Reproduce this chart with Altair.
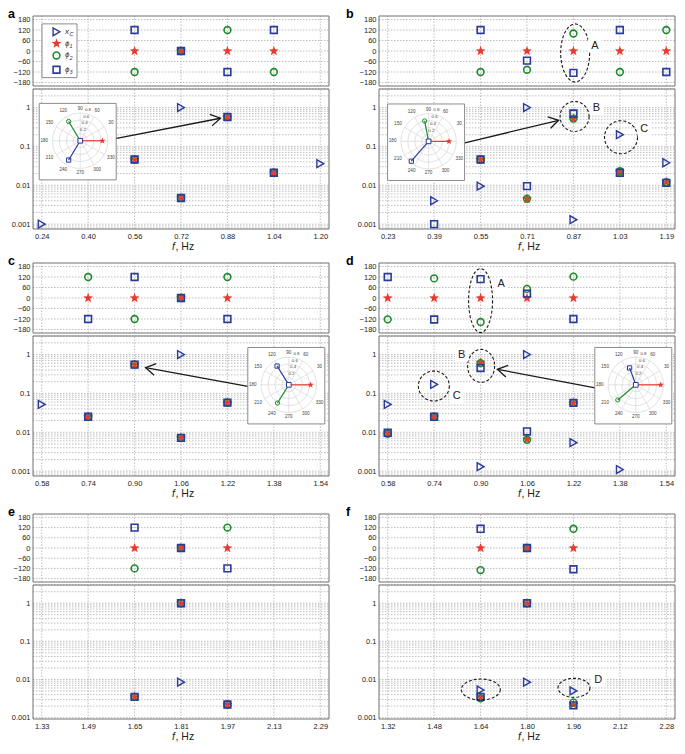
import math
import altair as alt
import numpy as np

FONT = "Liberation Sans"
BLUE = "#2a3b9c"
RED = "#e63b2e"
GREEN = "#1e8c2c"
GRID = "#a3a3a3"
FRAME = "#707070"
INK = "#1a1a1a"

# ---------------- values ----------------
PH_TICKS = [-180, -120, -60, 0, 60, 120, 180]
DECADES = [0.001, 0.01, 0.1, 1]
RINGS = [0.2, 0.4, 0.6, 0.8]
SPOKES = list(range(0, 360, 30))
ANGLE_LABELS = list(range(30, 360, 30))

A_TICKS = [0.24, 0.40, 0.56, 0.72, 0.88, 1.04, 1.20]
A_F = [0.56, 0.72, 0.88, 1.04]
A_PH1 = [0, 0, 0, 0]
A_PH2 = [-120, 0, 120, -120]
A_PH3 = [120, 0, -120, 120]
A_AM1 = [0.046, 0.0047, 0.57, 0.021]
A_AM2 = [0.046, 0.0047, 0.57, 0.021]
A_AM3 = [0.046, 0.0047, 0.57, 0.021]
A_XC_F = [0.24, 0.72, 1.20]
A_XC = [0.001, 1.0, 0.036]
A_IN_MAG = [0.64, 0.65, 0.65]
A_IN_ANG = [0, 121, 239]

B_TICKS = [0.23, 0.39, 0.55, 0.71, 0.87, 1.03, 1.19]
B_F = [0.55, 0.71, 0.87, 1.03, 1.19]
B_PH1 = [0, 0, 0, 0, 0]
B_PH2 = [-120, -107, 100, -120, 120]
B_PH3 = [120, -55, -125, 120, -120]
B_AM1 = [0.046, 0.0045, 0.52, 0.022, 0.012]
B_AM2 = [0.046, 0.0045, 0.52, 0.023, 0.012]
B_AM3_F = [0.39, 0.55, 0.71, 0.87, 1.03, 1.19]
B_AM3 = [0.001, 0.046, 0.0095, 0.70, 0.021, 0.0115]
B_XC_F = [0.39, 0.55, 0.71, 0.87, 1.03, 1.19]
B_XC = [0.004, 0.0095, 1.0, 0.0013, 0.2, 0.038]
B_IN_MAG = [0.59, 0.60, 0.76]
B_IN_ANG = [0, 101, 229]

C_TICKS = [0.58, 0.74, 0.90, 1.06, 1.22, 1.38, 1.54]
C_F = [0.74, 0.90, 1.06, 1.22]
C_PH1 = [0, 0, 0, 0]
C_PH2 = [120, -120, 0, 120]
C_PH3 = [-120, 120, 0, -120]
C_AM1 = [0.025, 0.55, 0.0072, 0.058]
C_AM2 = [0.025, 0.55, 0.0072, 0.058]
C_AM3 = [0.025, 0.55, 0.0072, 0.058]
C_XC_F = [0.58, 1.06]
C_XC = [0.052, 1.0]
C_IN_MAG = [0.63, 0.62, 0.64]
C_IN_ANG = [0, 238, 122]

D_TICKS = [0.58, 0.74, 0.90, 1.06, 1.22, 1.38, 1.54]
D_F = [0.58, 0.74, 0.90, 1.06, 1.22]
D_PH1 = [0, 0, 0, 0, 0]
D_PH2 = [-122, 112, -137, 52, 122]
D_PH3 = [120, -123, 108, 25, -120]
D_AM1 = [0.0095, 0.025, 0.62, 0.0066, 0.057]
D_AM2 = [0.0092, 0.025, 0.60, 0.0064, 0.057]
D_AM3 = [0.0097, 0.025, 0.45, 0.0105, 0.057]
D_XC_F = [0.58, 0.74, 0.90, 1.06, 1.22, 1.38]
D_XC = [0.052, 0.17, 0.0013, 1.0, 0.0054, 0.0011]
D_IN_MAG = [0.72, 0.68, 0.52]
D_IN_ANG = [0, 220, 110]

E_TICKS = [1.33, 1.49, 1.65, 1.81, 1.97, 2.13, 2.29]
E_F = [1.65, 1.81, 1.97]
E_PH1 = [0, 0, 0]
E_PH2 = [-120, 0, 120]
E_PH3 = [120, 0, -120]
E_AM1 = [0.0035, 1.0, 0.0022]
E_AM2 = [0.0035, 1.0, 0.0022]
E_AM3 = [0.0035, 1.0, 0.0022]
E_XC_F = [1.81]
E_XC = [0.0085]

F_TICKS = [1.32, 1.48, 1.64, 1.80, 1.96, 2.12, 2.28]
F_F = [1.64, 1.80, 1.96]
F_PH1 = [0, 0, 0]
F_PH2 = [-130, 0, 113]
F_PH3 = [113, 0, -125]
F_AM1 = [0.0034, 1.0, 0.0022]
F_AM2 = [0.0032, 1.0, 0.0025]
F_AM3 = [0.0035, 1.0, 0.0021]
F_XC_F = [1.64, 1.80, 1.96]
F_XC = [0.0053, 0.0085, 0.005]

A_ARROW = (0.489, 0.156, 0.856, 0.53, 349)
B_ARROW = (0.496, 0.124, 0.819, 0.47, 346)
C_ARROW = (1.295, 0.149, 0.938, 0.458, 190)
D_ARROW = (1.295, 0.138, 0.958, 0.417, 191)

B_PH_ELL = [(0.876, -11, 29, 58)]
B_PH_LAB = [(0.944, 31, "A")]
B_AM_ELL = [(0.874, 0.59, 29, 30), (1.034, 0.172, 33, 33)]
B_AM_LAB = [(0.949, 1.0, "B"), (1.114, 0.284, "C")]
D_PH_ELL = [(0.90, -15, 24, 64)]
D_PH_LAB = [(0.971, 79, "A")]
D_AM_ELL = [(0.902, 0.51, 27, 33), (0.739, 0.155, 31, 30)]
D_AM_LAB = [(0.835, 1.0, "B"), (0.818, 0.086, "C")]
F_AM_ELL = [(1.641, 0.00545, 39, 21), (1.962, 0.00605, 32, 19)]
F_AM_LAB = [(2.045, 0.0096, "D")]

# ---------------- layout (one chart, each panel on its own scales) ----------------
TW, TH = 669, 734
W = 296
GAP = 3
COL_X = [25, 371]
ROW_Y = [8, 255, 506]
ROW_SIZES = [(70, 140), (70, 140), (68, 134)]
ADOM_TOP = [0.00075, 3]
ADOM_BOT = [0.00092, 3]
PH_DOM = [-200, 200]
REF_W, REF_AMP = 300.0, 143.0
IN_XD = [-1.185, 1.04]
IN_YD = [-1.13, 1.08]
IN_W = 77.0
PXU = IN_W / (IN_XD[1] - IN_XD[0])
IN_H = PXU * (IN_YD[1] - IN_YD[0])

STAR = 105
CIRC = 46
SQ = 46
TRI = 62
CHEVRON = "M-1,-0.6L0,0L-1,0.6"


def star_path(inner=0.42):
    pts = []
    for k in range(10):
        r = 1.0 if k % 2 == 0 else inner
        a = math.radians(-90 + 36 * k)
        pts.append(f"{r * math.cos(a):.3f},{r * math.sin(a):.3f}")
    return "M" + "L".join(pts) + "Z"


STAR_PATH = star_path()


def D(**cols):
    keys = list(cols)
    n = len(cols[keys[0]])
    return alt.Data(values=[{k: cols[k][i] for k in keys} for i in range(n)])


ONE = D(k=[0])


def ellipse_path(w, h, n=48):
    m = max(w, h)
    t = np.linspace(0, 2 * np.pi, n, endpoint=False)
    pts = [f"{w / m * np.cos(a):.3f},{h / m * np.sin(a):.3f}" for a in t]
    return "M" + "L".join(pts) + "Z"


def amp_grid(dom):
    vals = []
    for k in range(-4, 1):
        for m in range(1, 10):
            v = float(f"{m}e{k}")
            if dom[0] <= v <= dom[1]:
                vals.append(v)
    return vals


def grid_frame(X, Y, xdom, xticks, ydom, yvals):
    n1, n2 = len(xticks), len(yvals)
    rule = dict(color=GRID, strokeWidth=0.7, strokeDash=[1.5, 1.5])
    vg = alt.Chart(D(f=xticks, v=[ydom[0]] * n1, v2=[ydom[1]] * n1)).mark_rule(**rule).encode(
        x=X, y=Y, y2="v2")
    hg = alt.Chart(D(v=yvals, f=[xdom[0]] * n2, f2=[xdom[1]] * n2)).mark_rule(**rule).encode(
        y=Y, x=X, x2="f2")
    fr = alt.Chart(D(f=[xdom[0]], f2=[xdom[1]], v=[ydom[0]], v2=[ydom[1]])).mark_rect(
        fillOpacity=0, stroke=FRAME, strokeWidth=1).encode(x=X, x2="f2", y=Y, y2="v2")
    return [vg, hg, fr]


def markers(X, Y, series, xc=None):
    (f1, v1), (f2, v2), (f3, v3) = series
    out = [
        alt.Chart(D(f=f1, v=v1)).mark_point(shape=STAR_PATH, filled=True, color=RED, size=STAR,
                                            opacity=1).encode(x=X, y=Y),
        alt.Chart(D(f=f2, v=v2)).mark_point(shape="circle", filled=False, color=GREEN, size=CIRC,
                                            opacity=1, strokeWidth=1.6).encode(x=X, y=Y),
        alt.Chart(D(f=f3, v=v3)).mark_point(shape="square", filled=False, color=BLUE, size=SQ,
                                            opacity=1, strokeWidth=1.6).encode(x=X, y=Y),
    ]
    if xc is not None:
        out.append(alt.Chart(D(f=xc[0], v=xc[1])).mark_point(
            shape="triangle-right", filled=False, color=BLUE, size=TRI, opacity=1,
            strokeWidth=1.4).encode(x=X, y=Y))
    return out


def annotations(X, Y, ells, labs):
    out = []
    if ells:
        d = D(f=[e[0] for e in ells], v=[e[1] for e in ells],
              path=[ellipse_path(e[2], e[3]) for e in ells],
              sz=[max(e[2], e[3]) ** 2 for e in ells])
        out.append(alt.Chart(d).mark_point(filled=False, color=INK, strokeWidth=1.1,
                                           strokeDash=[3, 2], opacity=1).encode(
            x=X, y=Y, shape=alt.Shape("path:N", scale=None), size=alt.Size("sz:Q", scale=None)))
    if labs:
        d = D(f=[l[0] for l in labs], v=[l[1] for l in labs], t=[l[2] for l in labs])
        out.append(alt.Chart(d).mark_point(shape="square", filled=True, color="white", size=190,
                                           opacity=1).encode(x=X, y=Y))
        out.append(alt.Chart(d).mark_text(font=FONT, fontSize=11, color="#222").encode(
            x=X, y=Y, text="t:N"))
    return out


def arrow(X, Y, arr):
    f0, a0, f1, a1, ang = arr
    line = alt.Chart(D(f=[f0], v=[a0], f2=[f1], v2=[a1])).mark_rule(
        color=INK, strokeWidth=1.3).encode(x=X, y=Y, x2="f2", y2="v2")
    head = alt.Chart(D(f=[f1], v=[a1])).mark_point(
        shape=CHEVRON, filled=False, color=INK, size=380, angle=ang, strokeWidth=1.3,
        opacity=1).encode(x=X, y=Y)
    return [line, head]


def inset(x0, y0, mags, angs):
    Xi = alt.X("x:Q", scale=alt.Scale(domain=IN_XD, range=[x0, x0 + IN_W], nice=False, zero=False),
               axis=None)
    Yi = alt.Y("y:Q", scale=alt.Scale(domain=IN_YD, range=[y0 + IN_H, y0], nice=False, zero=False),
               axis=None)
    box = alt.Chart(D(x=[IN_XD[0]], x2=[IN_XD[1]], y=[IN_YD[0]], y2=[IN_YD[1]])).mark_rect(
        fill="white", stroke="#8c8c8c", strokeWidth=1).encode(x=Xi, x2="x2", y=Yi, y2="y2")
    cosa, sina = "cos(datum.a*PI/180)", "sin(datum.a*PI/180)"
    spokes = alt.Chart(D(a=SPOKES)).transform_calculate(
        x="0", y="0", x2=f"0.8*{cosa}", y2=f"0.8*{sina}").mark_rule(
        color="#d2d2d2", strokeWidth=0.6).encode(x=Xi, y=Yi, x2="x2", y2="y2")
    rings = alt.Chart(D(r=RINGS)).transform_calculate(
        x="0", y="0", sz=f"pow(2*datum.r*{PXU:.4f}, 2)").mark_point(
        shape="circle", filled=False, color="#cfcfcf", strokeWidth=0.6, opacity=1).encode(
        x=Xi, y=Yi, size=alt.Size("sz:Q", scale=None))
    rr = f"(0.92 + 0.12*abs({cosa}))"
    alab = alt.Chart(D(a=ANGLE_LABELS)).transform_calculate(
        x=f"{rr}*{cosa}", y=f"{rr}*{sina}").mark_text(
        font=FONT, fontSize=4.6, color="#444").encode(x=Xi, y=Yi, text="a:Q")
    rlab = alt.Chart(D(r=RINGS)).transform_calculate(
        x="(datum.r+0.12)*cos(76*PI/180)", y="(datum.r+0.12)*sin(76*PI/180)").mark_text(
        font=FONT, fontSize=4.4, color="#444").encode(x=Xi, y=Yi, text=alt.Text("r:Q", format=".1f"))
    mc, ms = "datum.m*cos(datum.a*PI/180)", "datum.m*sin(datum.a*PI/180)"
    vecs = alt.Chart(D(m=mags, a=angs, c=[RED, GREEN, BLUE])).transform_calculate(
        x="0", y="0", x2=mc, y2=ms).mark_rule(strokeWidth=1.2).encode(
        x=Xi, y=Yi, x2="x2", y2="y2", color=alt.Color("c:N", scale=None))
    star = alt.Chart(D(m=[mags[0]], a=[angs[0]])).transform_calculate(x=mc, y=ms).mark_point(
        shape=STAR_PATH, filled=True, color=RED, size=44, opacity=1).encode(x=Xi, y=Yi)
    circ = alt.Chart(D(m=[mags[1]], a=[angs[1]])).transform_calculate(x=mc, y=ms).mark_point(
        shape="circle", filled=False, color=GREEN, size=18, opacity=1, strokeWidth=1).encode(x=Xi, y=Yi)
    sq = alt.Chart(D(m=[mags[2]], a=[angs[2]])).transform_calculate(x=mc, y=ms).mark_point(
        shape="square", filled=False, color=BLUE, size=18, opacity=1, strokeWidth=1).encode(x=Xi, y=Yi)
    ctr = alt.Chart(D(x=[0], y=[0])).mark_point(
        shape="square", filled=True, color="white", size=22, opacity=1, stroke=BLUE,
        strokeWidth=1).encode(x=Xi, y=Yi)
    return alt.layer(box, spokes, rings, alab, rlab, vecs, star, circ, sq, ctr)


def legend(x0, y0, ph):
    s = ph / 71.0
    out = [alt.Chart(ONE).mark_rect(fill="white", stroke="#8c8c8c", strokeWidth=1).encode(
        x=alt.value(x0 + 9), x2=alt.value(x0 + 44), y=alt.value(y0 + 8 * s),
        y2=alt.value(y0 + 62.5 * s))]
    rows = [16, 28, 40, 54.5]
    syms = [("triangle-right", False, BLUE, TRI, 1.4), (STAR_PATH, True, RED, STAR, 1),
            ("circle", False, GREEN, CIRC, 1.6), ("square", False, BLUE, SQ, 1.6)]
    names = [("x", "C"), ("\u03d5", "1"), ("\u03d5", "2"), ("\u03d5", "3")]
    for r, (shp, fil, col, sz, sw), (main, sub) in zip(rows, syms, names):
        yy = y0 + r * s
        out.append(alt.Chart(ONE).mark_point(shape=shp, filled=fil, color=col, size=sz, opacity=1,
                                             strokeWidth=sw).encode(x=alt.value(x0 + 23.5), y=alt.value(yy)))
        out.append(alt.Chart(ONE).mark_text(text=main, font=FONT, fontSize=8, fontStyle="italic",
                                            align="left", baseline="middle", color="#333").encode(
            x=alt.value(x0 + 32), y=alt.value(yy)))
        out.append(alt.Chart(ONE).mark_text(text=sub, font=FONT, fontSize=5.5, fontStyle="italic",
                                            align="left", baseline="middle", color="#333").encode(
            x=alt.value(x0 + 36.6), y=alt.value(yy + 2.6)))
    return out


def panel(key, col, row, adom, ticks, ph_series, am_series, xc,
          ins=None, arr=None, ph_ell=(), ph_lab=(), am_ell=(), am_lab=()):
    x0, y0 = COL_X[col], ROW_Y[row]
    ph, amp = ROW_SIZES[row]
    ya = y0 + ph + GAP
    yb = ya + amp
    xdom = [round(ticks[0] - 0.03, 3), round(ticks[-1] + 0.03, 3)]
    common = dict(title=None, grid=False, ticks=False, domain=False, labelPadding=3,
                  labelFlush=False, labelOverlap=False, labelFont=FONT, labelFontSize=7.5,
                  labelColor="#222")
    xsc = dict(domain=xdom, range=[x0, x0 + W], nice=False, zero=False)
    X_ph = alt.X("f:Q", scale=alt.Scale(**xsc), axis=None)
    Y_ph = alt.Y("v:Q", scale=alt.Scale(domain=PH_DOM, range=[y0 + ph, y0], nice=False, zero=False),
                 axis=alt.Axis(values=PH_TICKS, format="d", orient="left", offset=-x0, **common))
    X_am = alt.X("f:Q", scale=alt.Scale(**xsc),
                 axis=alt.Axis(values=ticks, format=".2f", orient="bottom", offset=yb - TH, **common))
    Y_am = alt.Y("v:Q", scale=alt.Scale(type="log", domain=adom, range=[yb, ya], nice=False),
                 axis=alt.Axis(values=DECADES, format="~g", orient="left", offset=-x0, **common))

    ph_layers = grid_frame(X_ph, Y_ph, xdom, ticks, PH_DOM, PH_TICKS)
    ph_layers += markers(X_ph, Y_ph, ph_series)
    ph_layers += annotations(X_ph, Y_ph, list(ph_ell), list(ph_lab))

    am_layers = grid_frame(X_am, Y_am, xdom, ticks, adom, amp_grid(adom))
    if arr is not None:
        am_layers += arrow(X_am, Y_am, arr)
    am_layers += markers(X_am, Y_am, am_series, xc)
    am_layers += annotations(X_am, Y_am, list(am_ell), list(am_lab))

    groups = [alt.layer(*ph_layers), alt.layer(*am_layers)]
    if ins is not None:
        groups.append(inset(x0 + ins[0] * W / REF_W, ya + ins[1] * amp / REF_AMP, ins[2], ins[3]))

    deco = [
        alt.Chart(ONE).mark_text(text=key, font=FONT, fontSize=12.5, fontWeight="bold",
                                 align="left", baseline="alphabetic", color="black").encode(
            x=alt.value(x0 - 25 if col == 0 else x0 - 33), y=alt.value(y0 + 2)),
        alt.Chart(ONE).mark_text(text="f", font=FONT, fontSize=10.5, fontStyle="italic",
                                 align="right", baseline="middle", color="#222").encode(
            x=alt.value(x0 + W / 2 - 6), y=alt.value(yb + 17.5)),
        alt.Chart(ONE).mark_text(text=", Hz", font=FONT, fontSize=10.5, align="left",
                                 baseline="middle", color="#222").encode(
            x=alt.value(x0 + W / 2 - 5.5), y=alt.value(yb + 17.5)),
    ]
    if key == "a":
        deco += legend(x0, y0, ph)
    groups.append(alt.layer(*deco))
    return groups


groups = []
groups += panel("a", 0, 0, ADOM_TOP, A_TICKS,
                [(A_F, A_PH1), (A_F, A_PH2), (A_F, A_PH3)],
                [(A_F, A_AM1), (A_F, A_AM2), (A_F, A_AM3)], (A_XC_F, A_XC),
                ins=(6.3, 14.7, A_IN_MAG, A_IN_ANG), arr=A_ARROW)
groups += panel("b", 1, 0, ADOM_TOP, B_TICKS,
                [(B_F, B_PH1), (B_F, B_PH2), (B_F, B_PH3)],
                [(B_F, B_AM1), (B_F, B_AM2), (B_AM3_F, B_AM3)], (B_XC_F, B_XC),
                ins=(8.7, 15.3, B_IN_MAG, B_IN_ANG), arr=B_ARROW,
                ph_ell=B_PH_ELL, ph_lab=B_PH_LAB, am_ell=B_AM_ELL, am_lab=B_AM_LAB)
groups += panel("c", 0, 1, ADOM_TOP, C_TICKS,
                [(C_F, C_PH1), (C_F, C_PH2), (C_F, C_PH3)],
                [(C_F, C_AM1), (C_F, C_AM2), (C_F, C_AM3)], (C_XC_F, C_XC),
                ins=(217.7, 11.7, C_IN_MAG, C_IN_ANG), arr=C_ARROW)
groups += panel("d", 1, 1, ADOM_TOP, D_TICKS,
                [(D_F, D_PH1), (D_F, D_PH2), (D_F, D_PH3)],
                [(D_F, D_AM1), (D_F, D_AM2), (D_F, D_AM3)], (D_XC_F, D_XC),
                ins=(218.7, 11.7, D_IN_MAG, D_IN_ANG), arr=D_ARROW,
                ph_ell=D_PH_ELL, ph_lab=D_PH_LAB, am_ell=D_AM_ELL, am_lab=D_AM_LAB)
groups += panel("e", 0, 2, ADOM_BOT, E_TICKS,
                [(E_F, E_PH1), (E_F, E_PH2), (E_F, E_PH3)],
                [(E_F, E_AM1), (E_F, E_AM2), (E_F, E_AM3)], (E_XC_F, E_XC))
groups += panel("f", 1, 2, ADOM_BOT, F_TICKS,
                [(F_F, F_PH1), (F_F, F_PH2), (F_F, F_PH3)],
                [(F_F, F_AM1), (F_F, F_AM2), (F_F, F_AM3)], (F_XC_F, F_XC),
                am_ell=F_AM_ELL, am_lab=F_AM_LAB)

chart = alt.layer(*groups).resolve_scale(x="independent", y="independent").properties(
    width=TW, height=TH, padding=0, background="white").configure_view(stroke=None)

chart.save("out.html", embed_options={"renderer": "svg", "actions": False})
